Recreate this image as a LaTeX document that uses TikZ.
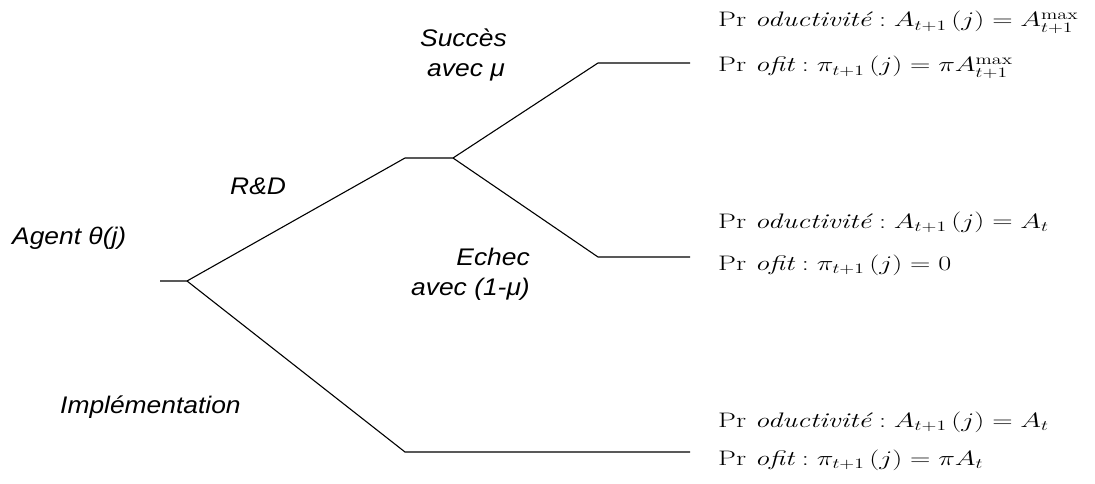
\documentclass[tikz,border=0pt]{standalone}
\usepackage{fontspec}
\usepackage{graphicx}
\newfontfamily\lblfont[FakeStretch=1.1]{Liberation Sans}
\newcommand{\wideeq}[1]{\scalebox{1.36}[1]{#1}}
\begin{document}
\begin{tikzpicture}[x=1pt,y=-1pt,
  lbl/.style={font=\lblfont\itshape\fontsize{24}{26}\selectfont, inner sep=0pt, anchor=base west},
  lblr/.style={lbl, anchor=base east},
  eq/.style={font=\fontsize{21}{24}\selectfont, inner sep=0pt, anchor=base west},
  branch/.style={line width=1.1pt, line join=miter}]
\useasboundingbox (0,0) rectangle (1095,484);
% tree
\coordinate (s) at (160,281);
\coordinate (r) at (187,281);
\coordinate (a1) at (405,158);
\coordinate (a2) at (453,158);
\coordinate (b1) at (598,63);
\coordinate (b2) at (690,63);
\coordinate (c1) at (598,257);
\coordinate (c2) at (690,257);
\coordinate (d1) at (405,452);
\coordinate (d2) at (690,452);
\draw[branch] (s) -- (r) -- (a1) -- (a2) -- (b1) -- (b2);
\draw[branch] (a2) -- (c1) -- (c2);
\draw[branch] (r) -- (d1) -- (d2);
% labels
\node[lbl] (agent) at (12,244) {Agent θ(j)};
\node[lbl] (rd) at (230,194) {R\&D};
\node[lbl] (succ1) at (420,47) {Succès};
\node[lbl] (succ2) at (427,77) {avec μ};
\node[lblr] (ech1) at (530,265) {Echec};
\node[lblr] (ech2) at (530,295) {avec (1-μ)};
\node[lbl] (impl) at (60,413) {Implémentation};
% outcomes
\node[eq] (p1) at (718,27) {\wideeq{$\mathrm{Pr}\ \textit{oductivité} : A_{t+1}\left(j\right)=A_{t+1}^{\max}$}};
\node[eq] (q1) at (718,72) {\wideeq{$\mathrm{Pr}\ \textit{ofit} : \pi_{t+1}\left(j\right)=\pi A_{t+1}^{\max}$}};
\node[eq] (p2) at (718,228) {\wideeq{$\mathrm{Pr}\ \textit{oductivité} : A_{t+1}\left(j\right)=A_{t}$}};
\node[eq] (q2) at (718,270) {\wideeq{$\mathrm{Pr}\ \textit{ofit} : \pi_{t+1}\left(j\right)=0$}};
\node[eq] (p3) at (718,427) {\wideeq{$\mathrm{Pr}\ \textit{oductivité} : A_{t+1}\left(j\right)=A_{t}$}};
\node[eq] (q3) at (718,465) {\wideeq{$\mathrm{Pr}\ \textit{ofit} : \pi_{t+1}\left(j\right)=\pi A_{t}$}};
\end{tikzpicture}
\end{document}
